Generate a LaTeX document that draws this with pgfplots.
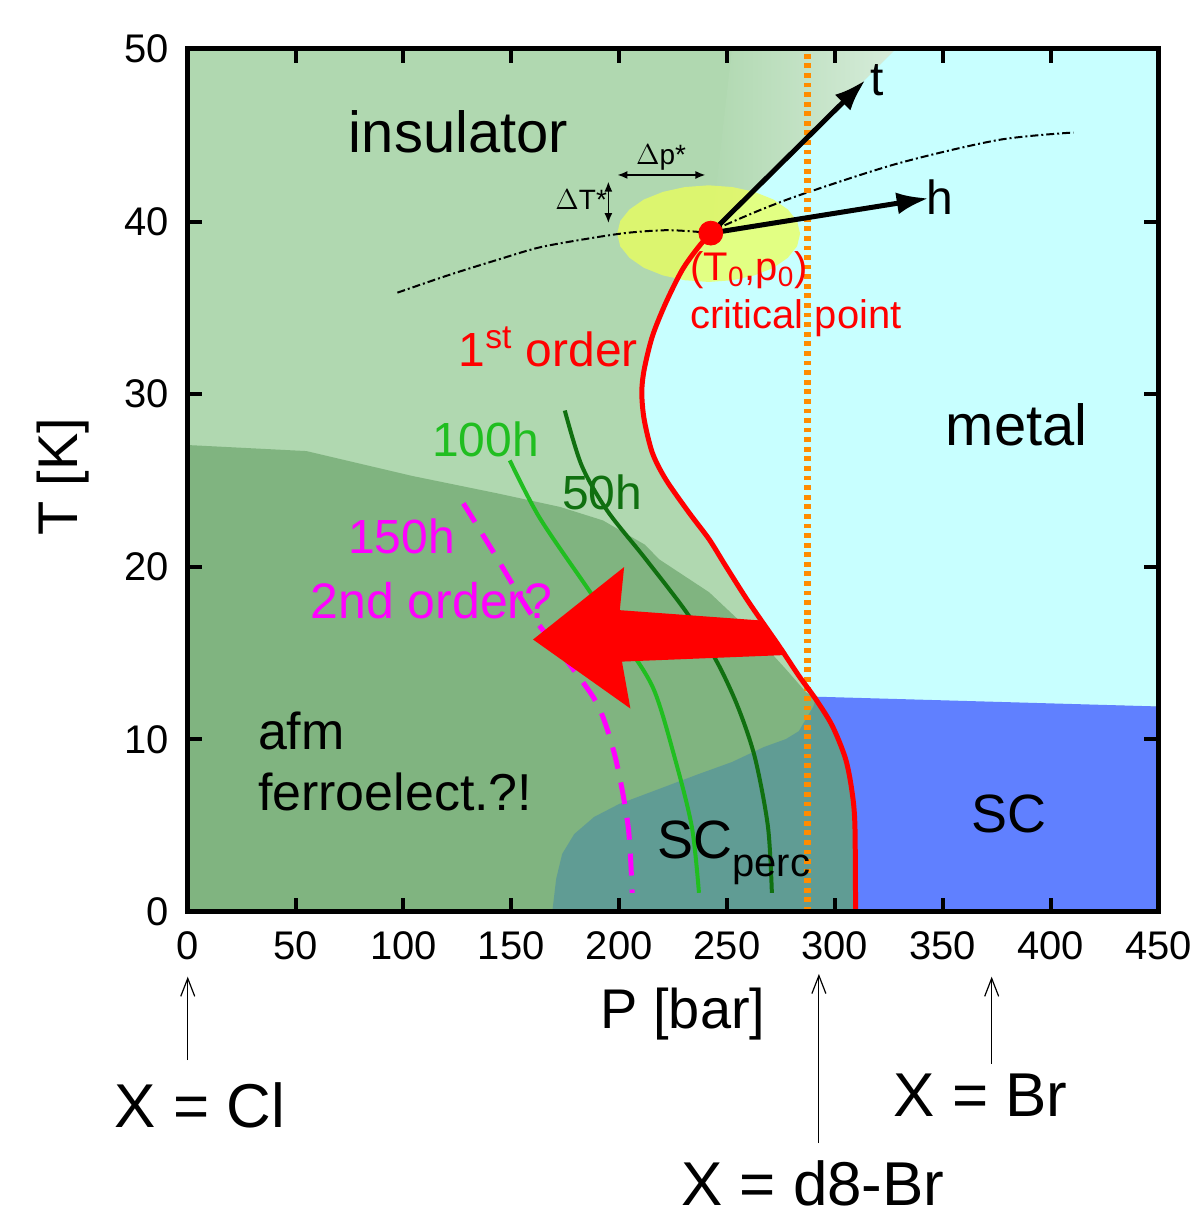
\documentclass[border=0pt]{standalone}
\usepackage{fontspec}
\setmainfont{Liberation Sans}
\usepackage{pgfplots}
\pgfplotsset{compat=1.18}
\usetikzlibrary{arrows.meta}

\definecolor{insul}{RGB}{176,216,176}
\definecolor{afm}{RGB}{128,180,128}
\definecolor{perc}{RGB}{96,156,148}
\definecolor{metal}{RGB}{200,255,255}
\definecolor{scblue}{RGB}{96,128,255}
\definecolor{ell}{RGB}{236,255,90}
\definecolor{org}{RGB}{255,140,0}
\definecolor{g100}{RGB}{32,190,32}
\definecolor{g50}{RGB}{16,112,16}
\definecolor{fanr}{RGB}{214,236,218}
\definecolor{mag}{RGB}{255,0,255}
\definecolor{pred}{RGB}{255,0,0}
\newcommand{\fs}[1]{\fontsize{#1}{#1}\selectfont}

\begin{document}
\begin{tikzpicture}
\begin{axis}[
  scale only axis, width=486pt, height=432pt,
  xmin=0, xmax=450, ymin=0, ymax=50,
  clip=false, axis on top,
  axis background/.style={fill=insul},
  axis line style={line width=2.5pt},
  tick align=inside, major tick length=7pt,
  tick style={black, line width=2pt},
  xtick={0,50,...,450}, ytick={0,10,...,50},
  /pgf/number format/assume math mode=true,
  ticklabel style={font=\fs{20}},
  xticklabel style={yshift=-6.5pt},
  yticklabel style={xshift=-6pt},
]
% bounding box
\path (axis cs:-87.04,-17.36) rectangle (axis cs:470.37,52.84);

% afm region
\addplot[fill=afm, draw=none] coordinates {
 (0,0) (0,27.05) (55,26.7) (104,25.26) (143.5,24.25) (172.7,23.46) (192.5,22.68)
 (212,21.27) (218.5,20.43) (241.7,18.52) (263.4,15.97) (277.3,14.06) (286.6,12.73)
 (291.1,12.33) (298.8,10.78) (305.0,8.85) (308.0,6.93) (309.3,4.99) (309.6,0)};
% SC perc region
\addplot[fill=perc, draw=none] coordinates {
 (169.0,0) (170.8,1.91) (173.6,3.36) (179.2,4.51) (188.4,5.50) (200.0,6.25)
 (218.5,7.12) (237.0,7.99) (252.3,8.68) (267.1,9.55) (277.3,10.01) (283.3,10.47)
 (286.6,11.17) (290,11.9) (291.1,12.33) (298.8,10.78) (305.0,8.85) (308.0,6.93)
 (309.3,4.99) (309.6,0)};
% metal region
\addplot[fill=metal, draw=none] coordinates {
 (242.5,39.33) (328.2,50) (450,50) (450,11.9) (291.1,12.33) (283.3,13.68)
 (274.1,15.41) (260.2,17.92) (249.4,20.04) (241.7,21.59) (232.4,23.13)
 (221.6,25.06) (215.4,26.60) (211.6,28.53) (210.5,30.08) (211.6,31.42)
 (215.4,33.35) (221.6,35.28) (229.3,37.21) (237.0,38.56)};
% crossover fan
\addplot[draw=none, left color=insul, right color=fanr] coordinates {
 (242.5,39.33) (252.3,50) (328.2,50)};
% SC region
\addplot[fill=scblue, draw=none] coordinates {
 (287.5,12.48) (450,11.9) (450,0) (309.6,0) (309.3,4.99) (308.0,6.93)
 (305.0,8.85) (298.8,10.78) (291.1,12.33)};
% fluctuation ellipse
\addplot[fill=ell, fill opacity=0.75, draw=none] coordinates {
 (283.9,39.3) (282.5,40.03) (278.2,40.7) (271.5,41.28) (262.7,41.72) (252.5,42.0)
 (241.5,42.1) (230.5,42.0) (220.3,41.72) (211.5,41.28) (204.8,40.7) (200.5,40.03)
 (199.1,39.3) (200.5,38.57) (204.8,37.9) (211.5,37.32) (220.3,36.88) (230.5,36.6)
 (241.5,36.5) (252.5,36.6) (262.7,36.88) (271.5,37.32) (278.2,37.9) (282.5,38.57)};

% Widom / crossover lines
\addplot[black, line width=1pt, dash pattern=on 4pt off 1.5pt on 1pt off 1.5pt, smooth] coordinates {
 (97.2,35.88) (121,36.9) (144,37.8) (163,38.5) (185,39.0) (204,39.35) (222,39.5) (237,39.4) (242.5,39.33)};
\addplot[black, line width=1pt, dash pattern=on 4pt off 1.5pt on 1pt off 1.5pt, smooth] coordinates {
 (242.5,39.33) (246.3,39.64) (266,40.7) (286.4,41.65) (329.6,43.38) (375.9,44.73) (410.6,45.16)};

% d8-Br line
\addplot[org, line width=3.5pt, dash pattern=on 2.4pt off 2.4pt] coordinates {(287.5,0) (287.5,50)};

% aging curves
\addplot[g50, line width=2pt, smooth] coordinates {
 (174.8,29.05) (182.6,25.87) (194.4,23.26) (212.0,20.49) (231.7,17.27) (245.4,14.47)
 (255.1,11.86) (263.0,8.91) (269.0,4.92) (270.8,1.10)};
\addplot[g100, line width=2pt, smooth] coordinates {
 (149.3,26.16) (163.0,22.86) (184.7,18.87) (202.3,15.68) (216.0,12.9) (225.8,8.91)
 (233.7,4.92) (237.0,1.10)};
\addplot[mag, line width=2.5pt, dash pattern=on 11pt off 7pt, smooth] coordinates {
 (127.8,23.67) (141.5,20.89) (159.1,17.27) (178.7,14.06) (190.5,11.88) (198.3,8.91)
 (204.2,4.92) (206.0,1.10)};

% big red arrow
\addplot[fill=pred, draw=none] coordinates {
 (160.1,15.78) (202.3,19.98) (200.3,17.48) (266.0,16.88) (276.9,14.88) (201.3,14.5) (205.2,11.78)};

% first order line
\addplot[pred, line width=2.5pt, smooth] coordinates {
 (242.5,39.33) (237.0,38.56) (229.3,37.21) (221.6,35.28) (215.4,33.35) (211.6,31.42)
 (210.5,30.08) (211.6,28.53) (215.4,26.60) (221.6,25.06) (232.4,23.13) (241.7,21.59)
 (249.4,20.04) (260.2,17.92) (274.1,15.41) (283.3,13.68) (291.1,12.33) (298.8,10.78)
 (305.0,8.85) (308.0,6.93) (309.3,4.99) (309.6,0)};

% scaling field arrows
\addplot[black, line width=2.5pt, -{Latex[length=16pt,width=11pt]}] coordinates {(242.5,39.33) (314.2,48.2)};
\addplot[black, line width=2.5pt, -{Latex[length=16pt,width=11pt]}] coordinates {(242.5,39.33) (343.5,41.35)};
\addplot[black, line width=0.8pt, {Latex[length=5pt,width=4pt]}-{Latex[length=5pt,width=4pt]}] coordinates {(199.2,42.7) (240,42.7)};
\addplot[black, line width=0.8pt, {Latex[length=5pt,width=4pt]}-{Latex[length=5pt,width=4pt]}] coordinates {(195,42.32) (195,39.91)};
% critical point
\addplot[only marks, mark=*, mark size=6pt, pred] coordinates {(242.5,39.33)};

% texts
\node[font=\fs{29}] at (axis cs:125.5,45.2) {insulator};
\node[font=\fs{29}] at (axis cs:384.3,28.24) {metal};
\node[font=\fs{24}, text=pred] at (axis cs:167.1,32.75) {1\textsuperscript{st} order};
\node[font=\fs{20}, text=pred] at (axis cs:260.2,37.2) {(T\textsubscript{0},p\textsubscript{0})};
\node[font=\fs{20}, text=pred] at (axis cs:282,34.4) {critical point};
\node[font=\fs{24}, text=g100] at (axis cs:138,27.4) {100h};
\node[font=\fs{24}, text=g50] at (axis cs:192.1,24.3) {50h};
\node[font=\fs{24}, text=mag] at (axis cs:99.1,21.76) {150h};
\node[font=\fs{25}, text=mag] at (axis cs:113,18.06) {2nd order?};
\node[font=\fs{26}, anchor=west, inner sep=0pt] at (axis cs:32.4,10.47) {afm};
\node[font=\fs{26}, anchor=west, inner sep=0pt] at (axis cs:32.4,6.94) {ferroelect.?!};
\node[font=\fs{27}] at (axis cs:380.6,5.67) {SC};
\node[font=\fs{27}, anchor=base west, inner sep=0pt] at (axis cs:217.6,3.07) {SC\raisebox{-9pt}{\fs{20}perc}};
\node[font=\fs{24}] at (axis cs:319.4,48.2) {t};
\node[font=\fs{24}] at (axis cs:348.5,41.4) {h};
\node[font=\fs{14}] at (axis cs:219.4,43.7) {$\Delta$p*};
\node[font=\fs{14}] at (axis cs:182.4,41.26) {$\Delta$T*};

% axis labels and compounds
\node[font=\fs{28}] at (axis cs:229.6,-5.9) {P [bar]};
\node[font=\fs{28}, rotate=90] at (axis cs:-57.9,25.2) {T [K]};
\node[font=\fs{31}] at (axis cs:5.6,-11.2) {X = Cl};
\node[font=\fs{31}] at (axis cs:367.6,-10.6) {X = Br};
\node[font=\fs{31}] at (axis cs:289.8,-15.75) {X = d8-Br};
\draw[line width=0.6pt, -{Straight Barb[length=9pt,width=7pt]}] (axis cs:0,-8.6) -- (axis cs:0,-3.76);
\draw[line width=0.6pt, -{Straight Barb[length=9pt,width=7pt]}] (axis cs:292.6,-13.4) -- (axis cs:292.6,-3.6);
\draw[line width=0.6pt, -{Straight Barb[length=9pt,width=7pt]}] (axis cs:372.7,-8.8) -- (axis cs:372.7,-3.76);
\end{axis}
\end{tikzpicture}
\end{document}
